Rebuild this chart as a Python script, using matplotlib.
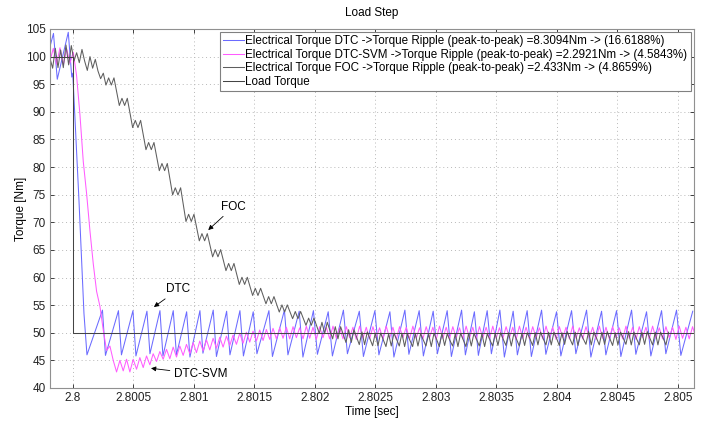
import numpy as np
import matplotlib
matplotlib.use("Agg")
import matplotlib.pyplot as plt

plt.rcParams["font.family"] = ["Liberation Sans", "DejaVu Sans"]

T0 = 2.8  # load step instant [s]; all times below are in µs after T0

# load torque
load_t_us = [-190, 0, 0, 5150]
load_nm = [100, 100, 50, 50]

# DTC electrical torque, corner points (sawtooth)
dtc_t_us = [-190, -161.1, -129.7, -38.8, -9.9, -1.7, 49.6, 90.9, 115.7,
            243.8, 268.6, 376.0, 400.8, 495.8, 520.6, 611.5, 636.3, 719.0, 743.8,
            828.9, 855.3, 939.6, 966.9, 1049.5, 1074.3, 1159.4, 1185.9, 1270.2, 1297.5,
            1380.1, 1409.0, 1490.0, 1520.6, 1619.7, 1648.7, 1747.8, 1776.8, 1870.1, 1900.7,
            1987.5, 2020.5, 2109.8, 2144.5, 2235.4, 2268.5, 2366.9, 2400.7, 2495.7, 2528.8,
            2619.7, 2652.7, 2743.6, 2776.7, 2861.8, 2896.5, 2977.5, 3012.2, 3093.2, 3127.9,
            3212.2, 3243.6, 3318.0, 3351.0, 3423.8, 3458.5, 3528.7, 3565.9, 3638.6, 3673.4,
            3754.3, 3789.0, 3873.3, 3908.9, 3997.3, 4032.8, 4121.3, 4156.8, 4245.3, 4280.8,
            4369.2, 4404.8, 4493.2, 4528.7, 4617.2, 4652.7, 4741.1, 4776.6, 4865.1, 4900.6,
            4989.0, 5024.6, 5123.0]
dtc_nm = [101.8, 104.2, 95.9, 104.4, 96.3, 97.0, 74.0, 53.5, 46.0,
          54.1, 45.9, 54.0, 46.0, 54.0, 45.8, 53.9, 46.2, 54.0, 45.8,
          54.0, 46.0, 53.8, 45.6, 54.0, 46.3, 54.1, 45.7, 53.9, 46.0,
          54.0, 45.8, 53.8, 46.2, 54.0, 45.7, 54.1, 46.0, 53.9, 45.6,
          54.0, 46.1, 53.8, 45.8, 54.1, 46.2, 53.9, 45.7, 54.0, 46.0,
          53.8, 45.6, 54.1, 46.1, 54.0, 45.8, 53.9, 46.2, 54.0, 45.7,
          54.1, 46.0, 53.8, 45.9, 54.0, 46.2, 54.1, 45.6, 53.9, 46.0,
          54.0, 45.7, 54.1, 46.1, 53.8, 45.8, 54.0, 46.2, 54.1, 45.6,
          53.9, 46.0, 54.0, 45.7, 54.1, 46.1, 53.8, 45.8, 54.0, 46.2,
          54.1, 45.9, 53.9]

# DTC-SVM electrical torque, sampled every svm_dt_us
svm_t0_us, svm_dt_us = -190.0, 27.52
svm_nm = [99.2, 101.5, 98.6, 101.6, 98.5, 101.4, 98.8, 100.8, 96.5, 89.5,
          81.0, 75.2, 68.5, 62.5, 57.5, 54.8, 50.5, 46.8, 47.6, 45.0,
          42.9, 45.0, 43.1, 45.2, 42.9, 45.2, 43.4, 45.5, 43.7, 45.8,
          44.2, 46.2, 44.8, 46.6, 45.2, 47.0, 45.3, 47.4, 45.6, 47.6,
          45.9, 47.9, 46.2, 48.2, 46.4, 48.5, 46.7, 48.7, 46.9, 49.0,
          47.2, 49.2, 47.4, 49.4, 47.7, 49.6, 47.9, 49.9, 48.1, 50.1,
          48.3, 50.3, 48.5, 50.5, 48.6, 50.6, 48.8, 50.8, 48.9, 50.9,
          49.0, 51.0, 48.9, 51.1, 49.1, 50.9, 48.9, 51.2, 49.0, 51.0,
          48.8, 51.1, 49.1, 51.0, 48.9, 51.2, 49.0, 50.9, 48.9, 51.1,
          49.1, 51.0, 48.8, 51.2, 49.0, 51.0, 48.9, 51.1, 49.1, 50.9,
          48.9, 51.2, 49.0, 51.0, 48.8, 51.1, 49.1, 51.0, 48.9, 51.2,
          49.0, 50.9, 48.9, 51.1, 49.1, 51.0, 48.8, 51.2, 49.0, 51.0,
          48.9, 51.1, 49.1, 50.9, 48.9, 51.2, 49.0, 51.0, 48.8, 51.1,
          49.1, 51.0, 48.9, 51.2, 49.0, 50.9, 48.9, 51.1, 49.1, 51.0,
          48.8, 51.2, 49.0, 51.0, 48.9, 51.1, 49.1, 50.9, 48.9, 51.2,
          49.0, 51.0, 48.8, 51.1, 49.1, 51.0, 48.9, 51.2, 49.0, 50.9,
          48.9, 51.1, 49.1, 51.0, 48.8, 51.2, 49.0, 51.0, 48.9, 51.1,
          49.1, 50.9, 48.9, 51.2, 49.0, 51.0, 48.8, 51.1, 49.1, 51.0,
          48.9, 51.2, 49.0, 50.9, 48.9, 51.1, 49.1, 51.0, 48.8, 51.2,
          49.0, 51.0, 48.9, 51.1, 49.1]

# FOC electrical torque, sampled every foc_dt_us
foc_t0_us, foc_dt_us = -190.0, 22.04
foc_nm = [99.7, 97.9, 101.5, 98.0, 101.2, 98.0, 102.1, 98.5, 102.0, 99.2,
          100.7, 98.9, 101.3, 99.2, 97.5, 100.0, 97.9, 99.5, 97.4, 96.0,
          97.0, 94.85, 96.15, 94.85, 96.15, 93.65, 91.15, 92.45, 91.15, 92.45,
          89.8, 87.15, 88.45, 87.15, 88.45, 85.8, 83.15, 84.45, 83.15, 84.45,
          81.9, 79.35, 80.65, 79.35, 80.65, 77.8, 74.95, 76.25, 74.95, 76.25,
          73.2, 70.15, 71.45, 70.15, 71.45, 69.05, 66.65, 67.95, 66.65, 67.95,
          65.85, 63.75, 65.05, 63.75, 65.05, 63.15, 61.25, 62.55, 61.25, 62.55,
          60.65, 58.75, 60.05, 58.75, 60.05, 58.4, 56.75, 58.05, 56.75, 58.05,
          56.65, 55.25, 56.55, 55.25, 56.55, 55.15, 53.75, 55.05, 53.75, 55.05,
          53.8, 52.55, 53.85, 52.55, 53.85, 52.6, 51.35, 52.65, 51.35, 52.65,
          51.3, 49.9, 51.9, 49.9, 51.9, 50.4, 48.9, 51.1, 48.9, 51.1,
          49.7, 48.25, 50.55, 48.25, 50.55, 49.2, 47.85, 50.15, 47.85, 50.15,
          48.9, 47.65, 49.95, 47.65, 49.95, 48.7, 47.5, 49.8, 47.6, 49.9,
          48.8, 47.6, 49.9, 47.5, 49.8, 48.6, 47.5, 49.9, 47.6, 49.8,
          48.7, 47.6, 49.8, 47.5, 49.9, 48.8, 47.5, 49.9, 47.7, 49.8,
          48.6, 47.6, 49.8, 47.5, 49.9, 48.7, 47.5, 49.9, 47.6, 49.9,
          48.8, 47.6, 49.8, 47.5, 49.8, 48.7, 47.6, 49.9, 47.7, 50.0,
          48.8, 47.7, 50.0, 47.6, 49.9, 48.8, 47.6, 49.9, 47.7, 50.0,
          48.9, 47.7, 50.0, 47.8, 50.1, 48.9, 47.8, 50.1, 47.8, 50.1,
          49.0, 47.7, 50.0, 47.9, 50.2, 48.9, 47.8, 50.1, 47.7, 50.0,
          48.9, 47.9, 50.2, 47.8, 50.1, 49.0, 47.8, 50.1, 47.9, 50.2,
          48.9, 47.7, 50.0, 47.8, 50.1, 49.0, 47.9, 50.2, 47.8, 50.1,
          48.9, 47.8, 50.1, 47.9, 50.2, 49.0, 47.8, 50.1, 47.8, 50.1,
          49.0, 47.8, 50.1]

labels = [
    "Electrical Torque DTC ->Torque Ripple (peak-to-peak) =8.3094Nm -> (16.6188%)",
    "Electrical Torque DTC-SVM ->Torque Ripple (peak-to-peak) =2.2921Nm -> (4.5843%)",
    "Electrical Torque FOC ->Torque Ripple (peak-to-peak) =2.433Nm -> (4.8659%)",
    "Load Torque",
]
xtick_vals = [2.8, 2.8005, 2.801, 2.8015, 2.802, 2.8025, 2.803, 2.8035, 2.804, 2.8045, 2.805]
xtick_labels = ["2.8", "2.8005", "2.801", "2.8015", "2.802", "2.8025",
                "2.803", "2.8035", "2.804", "2.8045", "2.805"]
ytick_vals = list(range(40, 106, 5))


def us(t_list):
    return T0 + np.asarray(t_list) * 1e-6


svm_t = T0 + (svm_t0_us + svm_dt_us * np.arange(len(svm_nm))) * 1e-6
foc_t = T0 + (foc_t0_us + foc_dt_us * np.arange(len(foc_nm))) * 1e-6

fig = plt.figure(figsize=(7.17, 4.22), dpi=100)
ax = fig.add_axes([0.0697, 0.0806, 0.898, 0.8507])

lw = 0.75
ax.plot(us(dtc_t_us), dtc_nm, color="#6b6bff", lw=lw, label=labels[0])
ax.plot(svm_t, svm_nm, color="#ff5cff", lw=lw, label=labels[1])
ax.plot(foc_t, foc_nm, color="#5e5e5e", lw=lw, label=labels[2])
ax.plot(us(load_t_us), load_nm, color="#444444", lw=lw, label=labels[3])

ax.set_xlim(T0 - 190e-6, T0 + 5132e-6)
ax.set_ylim(40, 105)
ax.set_xticks(xtick_vals)
ax.set_xticklabels(xtick_labels)
ax.set_yticks(ytick_vals)
ax.tick_params(direction="in", length=3, width=0.6, labelsize=8.5, pad=3,
               top=True, right=True, colors="#222222")
ax.grid(True, color="#b8b8b8", linestyle=(0, (1, 3)), linewidth=0.7)
for s in ax.spines.values():
    s.set_color("#909090")
    s.set_linewidth(0.8)

ax.set_title("Load Step", fontsize=8.5, pad=9)
ax.set_xlabel("Time [sec]", fontsize=8.5, labelpad=1)
ax.set_ylabel("Torque [Nm]", fontsize=8.5, labelpad=-1)

leg = ax.legend(loc="upper right", fontsize=8.4, frameon=True, fancybox=False,
                framealpha=1, edgecolor="#808080", borderaxespad=0.25,
                handlelength=1.8, handletextpad=0.1, labelspacing=0.12,
                borderpad=0.3)
leg.get_frame().set_linewidth(0.8)

arrow = dict(arrowstyle="-|>", color="black", lw=0.6, mutation_scale=7,
             shrinkA=1, shrinkB=0)
ax.annotate("DTC", xy=(2.800669, 54.67), xytext=(2.800872, 57.87),
            ha="center", va="center", fontsize=8.5, arrowprops=arrow)
ax.annotate("DTC-SVM", xy=(2.800645, 43.57), xytext=(2.801056, 42.48),
            ha="center", va="center", fontsize=8.5, arrowprops=arrow)
ax.annotate("FOC", xy=(2.801118, 68.6), xytext=(2.801329, 72.83),
            ha="center", va="center", fontsize=8.5, arrowprops=arrow)

fig.savefig("out.png", dpi=100)
